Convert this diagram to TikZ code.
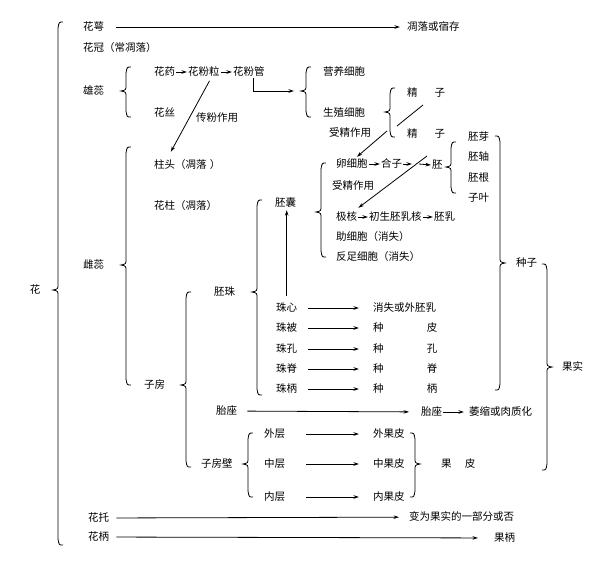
\documentclass[tikz,border=0pt]{standalone}
\usepackage{fontspec}
\setmainfont{Noto Sans CJK SC}
\usepackage{tikz}
\usetikzlibrary{arrows.meta}

\tikzset{
  txt/.style={inner sep=1pt, text height=0.8em, text depth=0.2em, font=\fontsize{10.5}{12}\selectfont},
  lt/.style={txt, anchor=west},
  arr/.style={-{Stealth[length=5.5pt,width=3.5pt]}, line width=0.8pt},
  ln/.style={line width=0.8pt},
  brace/.style={line width=0.8pt}
}

% left brace: x, top, tip, bottom
\newcommand{\bracel}[4]{%
  \draw[brace] (#1+5,#2) .. controls (#1+1,#2) .. (#1,#2+6)
    -- (#1,#3-6) .. controls (#1,#3-1) .. (#1-5,#3)
    .. controls (#1,#3+1) .. (#1,#3+6)
    -- (#1,#4-6) .. controls (#1+1,#4) .. (#1+5,#4);}
% right brace: x, top, tip, bottom
\newcommand{\bracer}[4]{%
  \draw[brace] (#1-5,#2) .. controls (#1-1,#2) .. (#1,#2+6)
    -- (#1,#3-6) .. controls (#1,#3-1) .. (#1+5,#3)
    .. controls (#1,#3+1) .. (#1,#3+6)
    -- (#1,#4-6) .. controls (#1-1,#4) .. (#1-5,#4);}

\begin{document}
\begin{tikzpicture}[x=1pt,y=-1pt]
    \useasboundingbox (0,0) rectangle (600,560);

    % Flower
    \node[txt] (hua) at (35,290) {花};
    \bracel{58}{22}{290}{545}

    % Calyx and corolla
    \node[lt] (huae) at (82,27) {花萼};
    \node[lt] (diaoluo) at (406,27) {凋落或宿存};
    \draw[arr, shorten <=11pt, shorten >=6pt] (huae) -- (diaoluo);
    \node[lt] (huaguan) at (82,48) {花冠（常凋落）};

    % Stamen
    \node[lt] (xiongrui) at (82,91) {雄蕊};
    \bracel{126}{67}{91}{117}
    \node[lt] (huayao) at (153,72) {花药};
    \node[lt] (fenli) at (187,72) {花粉粒};
    \node[lt] (fenguan) at (232,72) {花粉管};
    \draw[arr] (huayao) -- (fenli);
    \draw[arr] (fenli) -- (fenguan);
    \node[lt] (huasi) at (153,113) {花丝};
    \coordinate (xbtip) at (294,91);
    \draw[arr] ([xshift=4pt]fenguan.south) |- (xbtip);

    % Pollen tube
    \bracel{306}{67}{91}{117}
    \node[lt] (yingyang) at (322,72) {营养细胞};
    \node[lt] (shengzhi) at (322,113) {生殖细胞};
    \bracel{390}{88}{112}{137}
    \node[lt] (jingzi1) at (406,93) {精\hspace{1.6em}子};
    \node[lt] (jingzi2) at (406,134) {精\hspace{1.6em}子};
    \coordinate (jza) at (397,126);
    \coordinate (jzb) at (423,105);
    \draw[ln] (jza) -- (jzb);

    % Pollination
    \node[txt] (chuanfen) at (217,118) {传粉作用};

    % Pistil
    \node[lt] (cirui) at (82,265) {雌蕊};
    \bracel{126}{147}{265}{385}
    \node[lt] (zhutou) at (153,165) {柱头（凋落\hspace{0.3em}）};
    \node[lt] (huazhu) at (153,206) {花柱（凋落）};
    \draw[arr, shorten <=3pt, shorten >=8pt] ([xshift=7pt]fenli.south) -- ([xshift=14pt]zhutou.north west);
    \node[lt] (zifang) at (143,385) {子房};
    \bracel{186}{292}{385}{467}

    % Ovule
    \node[lt] (peizhu) at (213,292) {胚珠};
    \bracel{257}{200}{292}{395}
    \node[lt] (peinang) at (274,203) {胚囊};
    \bracel{321}{163}{212}{257}

    % Embryo sac
    \node[lt] (luanxibao) at (335,164) {卵细胞};
    \node[lt] (hezi) at (380,164) {合子};
    \node[lt] (pei) at (431,165) {胚};
    \coordinate (hza) at (412,164);
    \coordinate (hzb) at (419,164);
    \draw[arr] (luanxibao) -- (hezi);
    \draw[arr] (hezi.east) -- (hza);
    \draw[arr] (hzb) -- (pei.west);
    \bracel{451}{142}{167}{193}
    \node[lt] (peiya) at (467,137) {胚芽};
    \node[lt] (peizhou) at (467,157) {胚轴};
    \node[lt] (peigen) at (467,178) {胚根};
    \node[lt] (ziye) at (467,198) {子叶};

    \node[txt] (shoujing1) at (350,133) {受精作用};
    \node[txt] (shoujing2) at (353,186) {受精作用};

    \node[lt] (jihe) at (335,217) {极核};
    \node[lt] (chusheng) at (368,217) {初生胚乳核};
    \node[lt] (peiru) at (433,217) {胚乳};
    \draw[arr] (jihe) -- (chusheng);
    \draw[arr] (chusheng) -- (peiru);
    \node[lt] (zhuxibao) at (335,237) {助细胞（消失）};
    \node[lt] (fanzu) at (335,257) {反足细胞（消失）};

    % Double fertilization
    \coordinate (sja) at (387,131);
    \coordinate (sjb) at (427,156);
    \draw[arr] (sja) -- ([xshift=5pt,yshift=1pt]luanxibao.north);
    \draw[arr] (sjb) -- ([yshift=3pt]jihe.north east);

    % Nucellus etc.
    \node[lt] (zhuxin) at (275,308) {珠心};
    \node[lt] (zhubei) at (275,328) {珠被};
    \node[lt] (zhukong) at (275,349) {珠孔};
    \node[lt] (zhuji) at (275,369) {珠脊};
    \node[lt] (zhubing) at (275,389) {珠柄};
    \draw[arr, shorten <=6pt, shorten >=1pt] (zhuxin.north) -- (zhuxin.north |- peinang.south);

    \node[lt] (xiaoshi) at (372,308) {消失或外胚乳};
    \node[lt] (zhongpi) at (372,328) {种\hspace{4.1em}皮};
    \node[lt] (zhongkong) at (372,349) {种\hspace{4.1em}孔};
    \node[lt] (zhongji) at (372,369) {种\hspace{4.1em}脊};
    \node[lt] (zhongbing) at (372,389) {种\hspace{4.1em}柄};
    \draw[arr, shorten <=10pt, shorten >=13pt] (zhuxin) -- (xiaoshi);
    \draw[arr, shorten <=10pt, shorten >=13pt] (zhubei) -- (zhongpi);
    \draw[arr, shorten <=10pt, shorten >=13pt] (zhukong) -- (zhongkong);
    \draw[arr, shorten <=10pt, shorten >=13pt] (zhuji) -- (zhongji);
    \draw[arr, shorten <=10pt, shorten >=13pt] (zhubing) -- (zhongbing);

    % Placenta
    \node[lt] (taizuo) at (215,411) {胎座};
    \node[lt] (taizuo2) at (420,412) {胎座};
    \node[lt] (weisuo) at (468,412) {萎缩或肉质化};
    \draw[arr, shorten <=9pt, shorten >=11pt] (taizuo) -- (taizuo2);
    \draw[arr, shorten >=4pt] (taizuo2) -- (weisuo);

    % Ovary wall
    \node[lt] (zifangbi) at (200,464) {子房壁};
    \bracel{248}{433}{464}{497}
    \node[lt] (waiceng) at (263,434) {外层};
    \node[lt] (zhongceng) at (263,464) {中层};
    \node[lt] (neiceng) at (263,497) {内层};
    \node[lt] (waiguopi) at (372,434) {外果皮};
    \node[lt] (zhongguopi) at (372,464) {中果皮};
    \node[lt] (neiguopi) at (372,497) {内果皮};
    \draw[arr, shorten <=20pt, shorten >=13pt] (waiceng) -- (waiguopi);
    \draw[arr, shorten <=20pt, shorten >=13pt] (zhongceng) -- (zhongguopi);
    \draw[arr, shorten <=20pt, shorten >=13pt] (neiceng) -- (neiguopi);
    \bracer{415}{433}{464}{497}
    \node[lt] (guopi) at (440,464) {果\hspace{1.25em}皮};

    % Seed and fruit
    \bracer{500}{136}{263}{390}
    \node[lt] (zhongzi) at (515,263) {种子};
    \bracer{547}{264}{367}{470}
    \node[lt] (guoshi) at (561,367) {果实};

    % Receptacle and pedicel
    \node[lt] (huatuo) at (87,518) {花托};
    \node[lt] (bianwei) at (408,517) {变为果实的一部分或否};
    \draw[arr, shorten <=6pt, shorten >=9pt] (huatuo) -- (bianwei);
    \node[lt] (huabing) at (87,537) {花柄};
    \node[lt] (guobing) at (493,538) {果柄};
    \draw[arr, shorten <=6pt, shorten >=15pt] (huabing) -- (guobing);
\end{tikzpicture}
\end{document}
